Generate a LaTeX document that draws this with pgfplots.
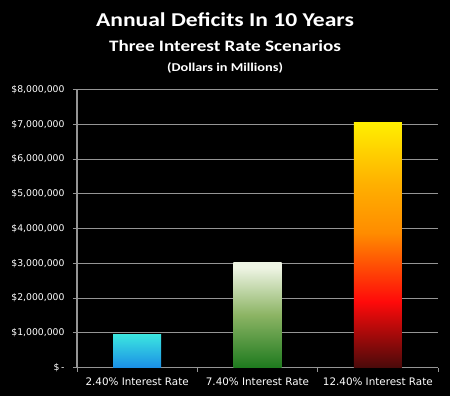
\documentclass[border=0pt]{standalone}
\usepackage{pgfplots}
\pgfplotsset{compat=1.18}
\usepackage{fontspec}
\setmainfont{Carlito}
\newfontfamily\titlefont[FakeStretch=1.2]{Carlito}
\newfontfamily\tickfont{DejaVu Sans}
\definecolor{gridgray}{HTML}{959595}
\definecolor{c1}{HTML}{1A8FE6}
\definecolor{c2}{HTML}{3CE6E0}
\definecolor{g0}{HTML}{1E7A1E}
\definecolor{g1}{HTML}{8CB464}
\definecolor{g2}{HTML}{EEF4E4}
\definecolor{r0}{HTML}{4A0A0A}
\definecolor{r1}{HTML}{FF0A0A}
\definecolor{r2}{HTML}{FF8C00}
\definecolor{r3}{HTML}{FFB000}
\definecolor{r4}{HTML}{FFEE00}
\pgfdeclareverticalshading{bbar}{100bp}{color(0bp)=(c1); color(25bp)=(c1); color(75bp)=(c2); color(100bp)=(c2)}
\pgfdeclareverticalshading{gbar}{100bp}{color(0bp)=(g0); color(25bp)=(g0); color(50bp)=(g1); color(72.5bp)=(g2); color(100bp)=(g2)}
\pgfdeclareverticalshading{rbar}{100bp}{color(0bp)=(r0); color(25bp)=(r0); color(38.5bp)=(r1); color(52.5bp)=(r2); color(62.5bp)=(r3); color(75bp)=(r4); color(100bp)=(r4)}
\begin{document}
\begin{tikzpicture}
\fill[black] (0bp,0bp) rectangle (450bp,396bp);
\node[white,anchor=base,font=\titlefont\bfseries\fontsize{19.7}{22}\selectfont] at (225bp,369bp) {Annual Deficits In 10 Years};
\node[white,anchor=base,font=\titlefont\bfseries\fontsize{16}{18}\selectfont] at (225bp,344bp) {Three Interest Rate Scenarios};
\node[white,anchor=base,font=\titlefont\bfseries\fontsize{12}{14}\selectfont] at (225bp,324.5bp) {(Dollars in Millions)};
\begin{axis}[
  at={(77bp,28.5bp)}, anchor=south west,
  scale only axis, width=361bp, height=278bp,
  xmin=-0.5, xmax=2.5, ymin=0, ymax=8000000,
  axis line style={gridgray, line width=1.2pt},
  axis x line*=bottom, axis y line*=left,
  xtick={0,1,2},
  xticklabels={2.40\% Interest Rate,7.40\% Interest Rate,12.40\% Interest Rate},
  minor xtick={-0.5,0.5,1.5,2.5},
  major x tick style={draw=none},
  minor tick length=4bp,
  tick align=outside,
  ytick={0,1000000,...,8000000},
  yticklabels={{\$\,-},{\$1,000,000},{\$2,000,000},{\$3,000,000},{\$4,000,000},{\$5,000,000},{\$6,000,000},{\$7,000,000},{\$8,000,000}},
  major tick length=4bp,
  tick style={gridgray, line width=1pt},
  ymajorgrids, grid style={gridgray, line width=1pt},
  ticklabel style={white},
  xticklabel style={font=\tickfont\fontsize{10.4}{12}\selectfont, yshift=-3bp},
  yticklabel style={font=\tickfont\fontsize{9.3}{11}\selectfont, xshift=-5bp},
  scaled ticks=false,
  ybar, bar width=0.4,
]
\addplot[draw=none, shading=bbar, bar shift=0pt] coordinates {(0,950000)};
\addplot[draw=none, shading=gbar, bar shift=0pt] coordinates {(1,3030000)};
\addplot[draw=none, shading=rbar, bar shift=0pt] coordinates {(2,7040000)};
\end{axis}
\end{tikzpicture}
\end{document}
